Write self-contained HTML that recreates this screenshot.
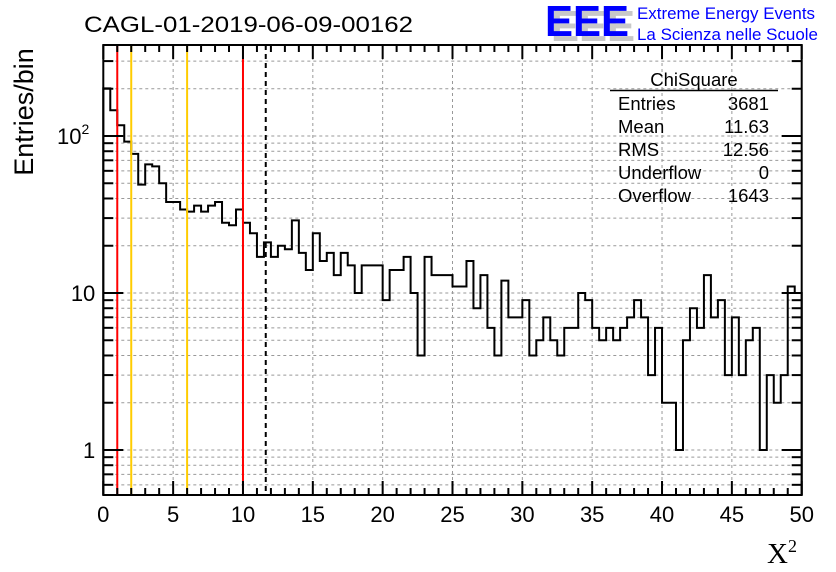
<!DOCTYPE html>
<html><head><meta charset="utf-8"><style>
body{margin:0;background:#fff;}
svg{display:block;font-family:"Liberation Sans",sans-serif;}
</style></head><body>
<svg id="c" width="836" height="572" viewBox="0 0 836 572">
<rect width="836" height="572" fill="#fff"/>
<text x="84" y="32" font-size="22" textLength="329" lengthAdjust="spacingAndGlyphs">CAGL-01-2019-06-09-00162</text>
<g>
<text x="551" y="41" font-size="44" font-weight="bold" fill="#c8c8c8" textLength="84" lengthAdjust="spacingAndGlyphs">EEE</text>
<text x="545" y="36" font-size="44" font-weight="bold" fill="#0000ff" textLength="84" lengthAdjust="spacingAndGlyphs">EEE</text>
<text x="637" y="19" font-size="17" fill="#0000ff" textLength="178" lengthAdjust="spacingAndGlyphs">Extreme Energy Events</text>
<text x="637" y="40" font-size="17" fill="#0000ff" textLength="181" lengthAdjust="spacingAndGlyphs">La Scienza nelle Scuole</text>
</g>
<g id="grid"></g>
<g id="marks"></g>
<g id="axes"></g>
<g font-size="18.5">
<text x="694" y="86" text-anchor="middle">ChiSquare</text>
<line x1="610" y1="90.5" x2="778" y2="90.5" stroke="#000" stroke-width="1.5"/>
<text x="618" y="110">Entries</text><text x="769" y="110" text-anchor="end">3681</text>
<text x="618" y="133">Mean</text><text x="769" y="133" text-anchor="end">11.63</text>
<text x="618" y="156">RMS</text><text x="769" y="156" text-anchor="end">12.56</text>
<text x="618" y="179">Underflow</text><text x="769" y="179" text-anchor="end">0</text>
<text x="618" y="202">Overflow</text><text x="769" y="202" text-anchor="end">1643</text>
</g>
<text x="33" y="112" font-size="27" transform="rotate(-90 33 112)" text-anchor="middle">Entries/bin</text>
<text x="767" y="563" font-size="29" font-family="Liberation Serif, serif">X<tspan font-size="18" dy="-11">2</tspan></text>
</svg>
<script>
const counts=[201,146,117,92,77,49,66,64,50,38,38,34,33,36,33,36,38,28,27,34,28,24,17,21,17,20,19,29,18,14,24,16,18,13,18,15,10,15,15,15,9,14,14,17,10,4,17,13,13,13,11,11,16,8,13,6,4,12,7,7,9,4,5,7,5,4,6,6,10,9,6,5,6,5,6,7,9,7,3,6,2,2,1,5,8,6,13,7,9,3,7,3,5,6,1,3,2,3,11,10];
const binWidth=0.5;
const xTicks=[0,5,10,15,20,25,30,35,40,45,50];
const yTickLabels=[[1,"1"],[10,"10"],[100,"10²"]];
const redLines=[1,10];
const orangeLines=[2,6];
const meanLine=11.63;

const L=103.3,R=801.7,T=45,B=495;
const xs=v=>L+(R-L)*v/50;
const ys=v=>450-157*Math.log10(v);
const NS="http://www.w3.org/2000/svg";
function mk(tag,attrs,parent){const e=document.createElementNS(NS,tag);for(const k in attrs)e.setAttribute(k,attrs[k]);parent.appendChild(e);return e;}
const grid=document.getElementById('grid'),marks=document.getElementById('marks'),axes=document.getElementById('axes');
for(const t of xTicks){if(t===0||t===50)continue;const g=mk('line',{x1:xs(t),x2:xs(t),y1:T,y2:B,stroke:'#999','stroke-dasharray':'3,3'},grid);

}
const yGridVals=[];for(const d of [0.1,1,10,100]){for(let m=1;m<=9;m++){const v=m*d;if(ys(v)<T||ys(v)>B)continue;yGridVals.push(v);}}
for(const v of yGridVals){const g=mk('line',{x1:L,x2:R,y1:ys(v),y2:ys(v),stroke:'#999','stroke-dasharray':'3,3'},grid);

}
let d='M'+L+' '+B;
counts.forEach((c,i)=>{const y=Math.min(B,ys(Math.max(c,0.01)));d+=' L'+xs(i*binWidth)+' '+y+' L'+xs((i+1)*binWidth)+' '+y;});
d+=' L'+R+' '+B;
const h=mk('path',{d:d,fill:'none',stroke:'#000','stroke-width':2},marks);


for(const v of redLines){const l=mk('line',{x1:xs(v),x2:xs(v),y1:T,y2:B,stroke:'#ff0000','stroke-width':2},marks);

}
for(const v of orangeLines){const l=mk('line',{x1:xs(v),x2:xs(v),y1:T,y2:B,stroke:'#ffcc00','stroke-width':2},marks);

}
const ml=mk('line',{x1:xs(meanLine),x2:xs(meanLine),y1:T,y2:B,stroke:'#000','stroke-width':2,'stroke-dasharray':'5,4'},marks);


const fr=mk('rect',{x:L,y:T,width:R-L,height:B-T,fill:'none',stroke:'#000','stroke-width':2},axes);


for(let v=0;v<=50;v++){const len=v%5===0?14:7;
mk('line',{x1:xs(v),x2:xs(v),y1:B,y2:B-len,stroke:'#000','stroke-width':2},axes);
mk('line',{x1:xs(v),x2:xs(v),y1:T,y2:T+len,stroke:'#000','stroke-width':2},axes);}
for(const t of xTicks){const tx=mk('text',{x:xs(t),y:B+27,'font-size':22,'text-anchor':'middle'},axes);tx.textContent=t;

}
for(const v of yGridVals){const len=(Math.abs(Math.log10(v)-Math.round(Math.log10(v)))<1e-6)?20:10;
mk('line',{x1:L,x2:L+len,y1:ys(v),y2:ys(v),stroke:'#000','stroke-width':2},axes);
mk('line',{x1:R,x2:R-len,y1:ys(v),y2:ys(v),stroke:'#000','stroke-width':2},axes);}
for(const [v,s] of yTickLabels){const tx=mk('text',{x:L-8,y:ys(v)+8,'font-size':22,'text-anchor':'end'},axes);
if(s==="10²"){tx.setAttribute('x',L-14);tx.textContent='10';const sp=mk('tspan',{'font-size':14,dy:-10},tx);sp.textContent='2';}else tx.textContent=s;

}
</script>
</body></html>
